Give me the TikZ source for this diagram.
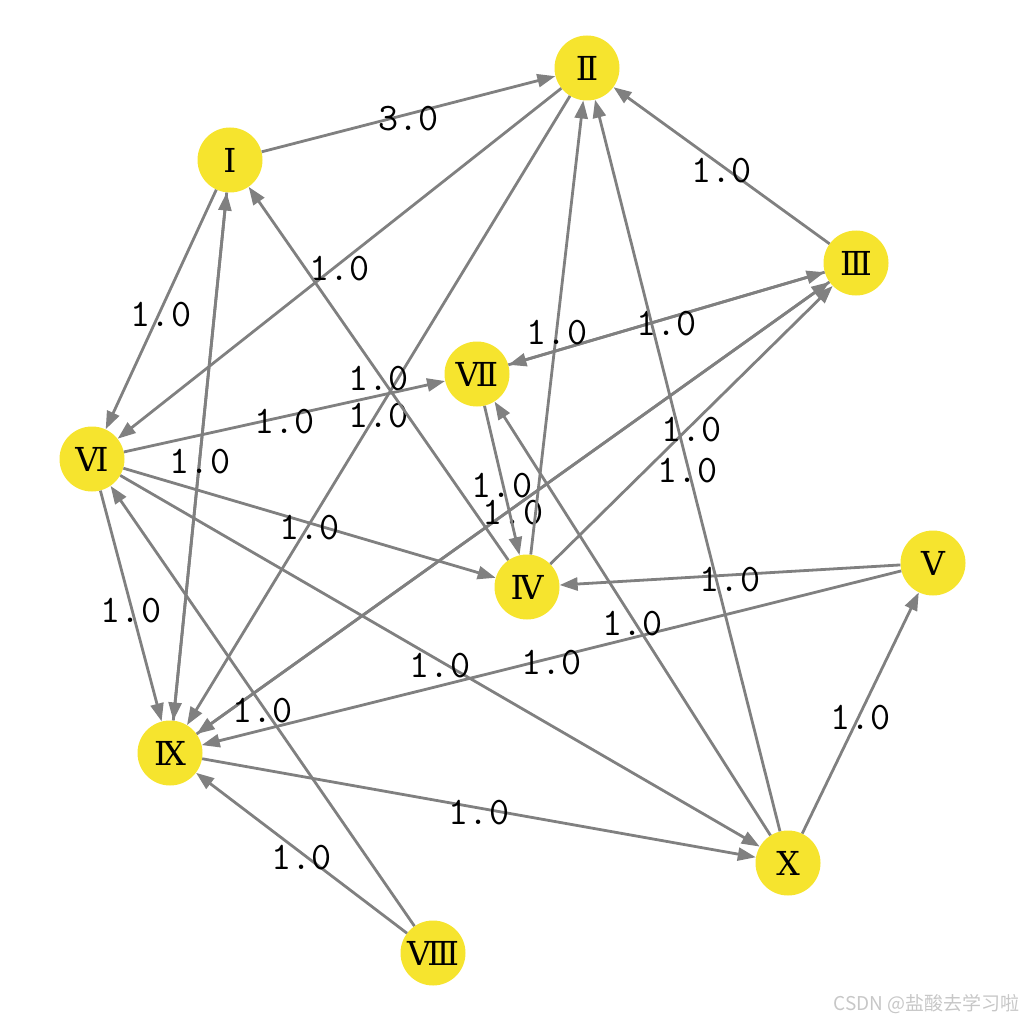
\documentclass[tikz,border=0pt]{standalone}
\usepackage{fontspec}
\usetikzlibrary{arrows.meta}
\newfontfamily\romfont{DejaVu Serif}
\newfontfamily\cjkfont{Noto Sans CJK SC}
\definecolor{nodeyellow}{RGB}{246,228,46}
\definecolor{edgegray}{RGB}{128,128,128}
\tikzset{
  vtx/.style={circle,fill=nodeyellow,draw=none,minimum size=65pt,inner sep=0pt,font=\romfont\fontsize{33}{33}\selectfont},
  edge/.style={draw=edgegray,line width=2.8pt,-{Triangle[length=18pt,width=13pt]}},
  lbl/.style={font=\ttfamily\fontsize{39}{39}\selectfont,inner sep=0pt,yshift=-5pt}
}
\begin{document}
\begin{tikzpicture}[x=1pt,y=-1pt]
\useasboundingbox (0,0) rectangle (1024,1024);
% nodes
\node[vtx] (I) at (230,160) {Ⅰ};
\node[vtx] (II) at (587,68) {Ⅱ};
\node[vtx] (III) at (856,263) {Ⅲ};
\node[vtx] (IV) at (527,587) {Ⅳ};
\node[vtx] (V) at (933,563) {Ⅴ};
\node[vtx] (VI) at (92,459) {Ⅵ};
\node[vtx] (VII) at (477,374) {Ⅶ};
\node[vtx] (VIII) at (433,953) {Ⅷ};
\node[vtx] (IX) at (170,753) {Ⅸ};
\node[vtx] (X) at (788,863) {Ⅹ};
% edges
\draw[edge] (I) -- node[lbl]{3.0} (II);
\draw[edge] (I) -- node[lbl]{1.0} (VI);
\draw[edge] (I) -- (IX);
\draw[edge] (IX) -- node[lbl]{1.0} (I);
\draw[edge] (II) -- node[lbl]{1.0} (VI);
\draw[edge] (II) -- node[lbl]{1.0} (IX);
\draw[edge] (III) -- node[lbl]{1.0} (II);
\draw[edge] (III) -- (VII);
\draw[edge] (VII) -- node[lbl]{1.0} (III);
\draw[edge] (III) -- (IX);
\draw[edge] (IX) -- node[lbl]{1.0} (III);
\draw[edge] (IV) -- node[lbl]{1.0} (I);
\draw[edge] (IV) -- node[lbl]{1.0} (II);
\draw[edge] (IV) -- node[lbl]{1.0} (III);
\draw[edge] (V) -- node[lbl]{1.0} (IV);
\draw[edge] (V) -- node[lbl]{1.0} (IX);
\draw[edge] (VI) -- node[lbl]{1.0} (VII);
\draw[edge] (VI) -- node[lbl]{1.0} (IV);
\draw[edge] (VI) -- node[lbl]{1.0} (IX);
\draw[edge] (VI) -- node[lbl]{1.0} (X);
\draw[edge] (VII) -- node[lbl]{1.0} (IV);
\draw[edge] (VIII) -- node[lbl]{1.0} (VI);
\draw[edge] (VIII) -- node[lbl]{1.0} (IX);
\draw[edge] (IX) -- node[lbl]{1.0} (X);
\draw[edge] (X) -- node[lbl]{1.0} (II);
\draw[edge] (X) -- node[lbl]{1.0} (VII);
\draw[edge] (X) -- node[lbl]{1.0} (V);
\node[font=\cjkfont\fontsize{19}{19}\selectfont,text=black!22,anchor=east,inner sep=0pt] (wm) at (1020,1004) {CSDN @盐酸去学习啦};
\end{tikzpicture}
\end{document}
